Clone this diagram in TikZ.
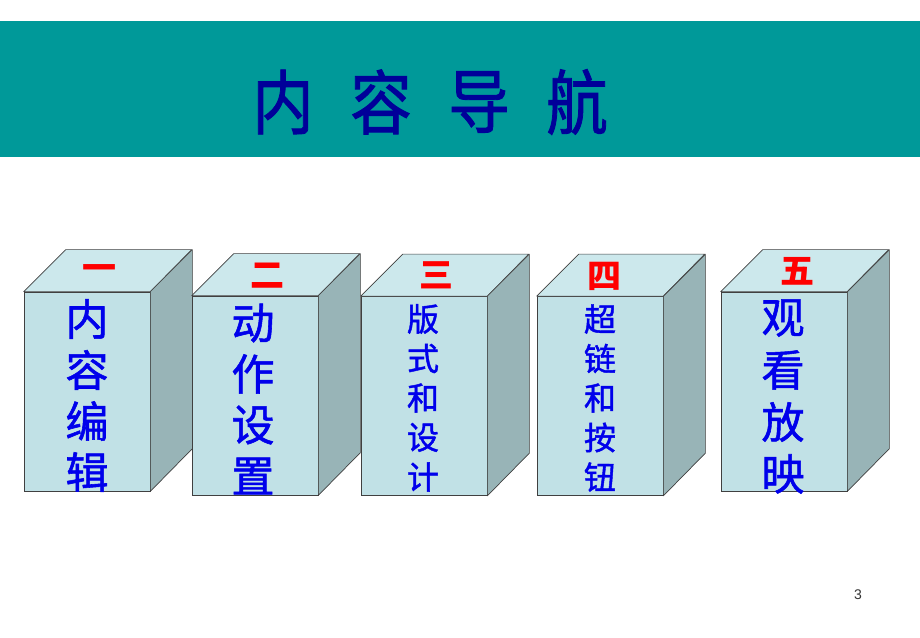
\documentclass[tikz,border=0pt]{standalone}
\usepackage{fontspec}
\setmainfont{Liberation Sans}
\newfontfamily\cjk{Noto Sans CJK SC}
\newfontfamily\cjkmid[RawFeature={embolden=1.3}]{Noto Sans CJK SC}
\usetikzlibrary{positioning,calc}
\definecolor{bandteal}{RGB}{0,153,153}
\definecolor{titleblue}{RGB}{0,0,153}
\definecolor{textblue}{RGB}{0,0,235}
\definecolor{numred}{RGB}{255,0,0}
\definecolor{facefront}{RGB}{193,225,230}
\definecolor{facetop}{RGB}{204,232,236}
\definecolor{faceside}{RGB}{152,180,183}
\tikzset{
front/.style = {draw=black!75, fill=facefront, rectangle, minimum width=126pt, minimum height=199pt, inner sep=0pt, line width=0.7pt},
topface/.style = {draw=black!75, fill=facetop, line width=0.7pt, line join=round},
sideface/.style = {draw=black!75, fill=faceside, line width=0.7pt, line join=round},
numeral/.style = {text=numred, font=\cjk\bfseries\fontsize{34}{34}\selectfont, inner sep=0pt},
label/.style = {text=textblue, font=\cjkmid\fontsize{#1}{#1}\selectfont, inner sep=0pt},
title/.style = {text=titleblue, font=\cjkmid\fontsize{70}{70}\selectfont, inner sep=0pt, xscale=0.88},
}
\newcommand{\boxsides}[1]{%
  \draw[topface] (#1.north west) -- ++(42,42) -- ++(126,0) -- (#1.north east) -- cycle;
  \draw[sideface] (#1.north east) -- ++(42,42) -- ++(0,-199) -- (#1.south east) -- cycle;}
\begin{document}
\begin{tikzpicture}[x=1pt, y=1pt]
      \useasboundingbox (0,0) rectangle (920,637);
      \fill[white] (0,0) rectangle (920,637);
      \fill[bandteal] (0,480) rectangle (920,616);
      \foreach \ch [count=\i from 0] in {内,容,导,航}
         \node[title] (title\i) at (283+98*\i,535) {\ch};
      \node[front] (box1) at (87,245.5) {};
      \boxsides{box1}
      \node[front] (box2) at (255,241.5) {};
      \boxsides{box2}
      \node[front] (box3) at (424,241) {};
      \boxsides{box3}
      \node[front] (box4) at (600,241) {};
      \boxsides{box4}
      \node[front] (box5) at (784,245.5) {};
      \boxsides{box5}
      \node[numeral] (num1) at (99,364) {一};
      \node[numeral] (num2) at (267,361) {二};
      \node[numeral] (num3) at (436,362) {三};
      \node[numeral] (num4) at (604,361) {四};
      \node[numeral] (num5) at (797,366) {五};
      \foreach \ch [count=\i from 0] in {内,容,编,辑}
         \node[label=43] (lab1\i) at (87,318-51*\i) {\ch};
      \foreach \ch [count=\i from 0] in {动,作,设,置}
         \node[label=43] (lab2\i) at (253,314-51*\i) {\ch};
      \foreach \ch [count=\i from 0] in {版,式,和,设,计}
         \node[label=32] (lab3\i) at (423,318-39.5*\i) {\ch};
      \foreach \ch [count=\i from 0] in {超,链,和,按,钮}
         \node[label=32] (lab4\i) at (600,318-39.5*\i) {\ch};
      \foreach \ch [count=\i from 0] in {观,看,放,映}
         \node[label=43] (lab5\i) at (783,319-52*\i) {\ch};
      \node[font=\fontsize{14}{14}\selectfont, text=black!80] (page) at (858,42) {3};
\end{tikzpicture}
\end{document}
